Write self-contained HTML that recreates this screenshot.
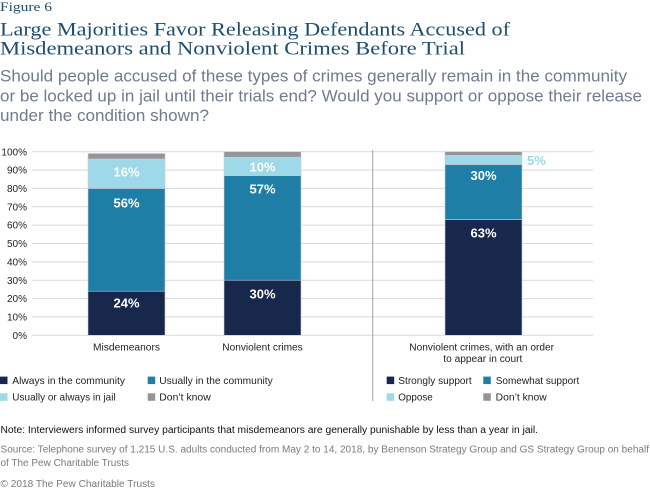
<!DOCTYPE html>
<html>
<head>
<meta charset="utf-8">
<style>
  html, body { margin: 0; padding: 0; background: #ffffff; }
  body { width: 650px; height: 490px; overflow: hidden; }
  svg { display: block; }
  .serif { font-family: "Liberation Serif", serif; }
  .sans { font-family: "Liberation Sans", sans-serif; }
</style>
</head>
<body>
<svg width="650" height="490" viewBox="0 0 650 490" xmlns="http://www.w3.org/2000/svg">
  <!-- Header -->
  <text class="serif" x="0" y="11" font-size="13" fill="#1c4d6d" textLength="52" lengthAdjust="spacingAndGlyphs">Figure 6</text>
  <text class="serif" x="0" y="35.5" font-size="19" fill="#1c4d6d" textLength="510" lengthAdjust="spacingAndGlyphs">Large Majorities Favor Releasing Defendants Accused of</text>
  <text class="serif" x="0" y="54.5" font-size="19" fill="#1c4d6d" textLength="465" lengthAdjust="spacingAndGlyphs">Misdemeanors and Nonviolent Crimes Before Trial</text>
  <text class="sans" x="0" y="81.5" font-size="17" fill="#6f7a93" textLength="627" lengthAdjust="spacingAndGlyphs">Should people accused of these types of crimes generally remain in the community</text>
  <text class="sans" x="0" y="101.5" font-size="17" fill="#6f7a93" textLength="642" lengthAdjust="spacingAndGlyphs">or be locked up in jail until their trials end? Would you support or oppose their release</text>
  <text class="sans" x="0" y="121" font-size="17" fill="#6f7a93" textLength="209" lengthAdjust="spacingAndGlyphs">under the condition shown?</text>

  <!-- Gridlines -->
  <g stroke="#d9d9d9" stroke-width="1">
    <line x1="32" x2="593" y1="335.3" y2="335.3"/>
    <line x1="32" x2="593" y1="316.9" y2="316.9"/>
    <line x1="32" x2="593" y1="298.6" y2="298.6"/>
    <line x1="32" x2="593" y1="280.2" y2="280.2"/>
    <line x1="32" x2="593" y1="261.9" y2="261.9"/>
    <line x1="32" x2="593" y1="243.5" y2="243.5"/>
    <line x1="32" x2="593" y1="225.1" y2="225.1"/>
    <line x1="32" x2="593" y1="206.8" y2="206.8"/>
    <line x1="32" x2="593" y1="188.4" y2="188.4"/>
    <line x1="32" x2="593" y1="170.1" y2="170.1"/>
    <line x1="32" x2="593" y1="151.7" y2="151.7"/>
  </g>

  <!-- Y tick labels -->
  <g class="sans" font-size="10" fill="#222" text-anchor="end">
    <text x="27" y="339">0%</text>
    <text x="27" y="320.5">10%</text>
    <text x="27" y="302.2">20%</text>
    <text x="27" y="283.8">30%</text>
    <text x="27" y="265.5">40%</text>
    <text x="27" y="247.1">50%</text>
    <text x="27" y="228.7">60%</text>
    <text x="27" y="210.4">70%</text>
    <text x="27" y="192">80%</text>
    <text x="27" y="173.7">90%</text>
    <text x="27" y="155.3">100%</text>
  </g>

  <!-- Separator -->
  <line x1="372.7" x2="372.7" y1="150" y2="401" stroke="#a3a3a3" stroke-width="1"/>

  <!-- Bar 1: Misdemeanors -->
  <g stroke="#c9ced8" stroke-width="0.6">
    <rect x="88" y="291.2" width="77" height="44.1" fill="#18274c"/>
    <rect x="88" y="188.4" width="77" height="102.8" fill="#1f7ea6"/>
    <rect x="88" y="159.0" width="77" height="29.4" fill="#9dd9e9"/>
    <rect x="88" y="153.5" width="77" height="5.5" fill="#939598"/>
  </g>
  <!-- Bar 2: Nonviolent crimes -->
  <g stroke="#c9ced8" stroke-width="0.6">
    <rect x="224" y="280.2" width="77" height="55.1" fill="#18274c"/>
    <rect x="224" y="175.6" width="77" height="104.6" fill="#1f7ea6"/>
    <rect x="224" y="157.2" width="77" height="18.4" fill="#9dd9e9"/>
    <rect x="224" y="151.7" width="77" height="5.5" fill="#939598"/>
  </g>
  <!-- Bar 3 -->
  <g stroke="#c9ced8" stroke-width="0.6">
    <rect x="445" y="219.6" width="77" height="115.7" fill="#18274c"/>
    <rect x="445" y="164.5" width="77" height="55.1" fill="#1f7ea6"/>
    <rect x="445" y="155.4" width="77" height="9.1" fill="#9dd9e9"/>
    <rect x="445" y="151.7" width="77" height="3.7" fill="#939598"/>
  </g>

  <!-- Value labels -->
  <g class="sans" font-size="13" font-weight="bold" fill="#ffffff" text-anchor="middle">
    <text x="126.5" y="307.5">24%</text>
    <text x="126.5" y="207.5">56%</text>
    <text x="126.5" y="176.5">16%</text>
    <text x="262.5" y="298.5">30%</text>
    <text x="262.5" y="193.5">57%</text>
    <text x="262.5" y="171.5">10%</text>
    <text x="483.5" y="237.5">63%</text>
    <text x="483.5" y="180">30%</text>
  </g>
  <text class="sans" x="527" y="165" font-size="13" font-weight="bold" fill="#9dd9e9">5%</text>

  <!-- Category labels -->
  <g class="sans" font-size="10" fill="#222">
    <text x="93" y="350.6" textLength="67" lengthAdjust="spacingAndGlyphs">Misdemeanors</text>
    <text x="222.3" y="350.6" textLength="80.4" lengthAdjust="spacingAndGlyphs">Nonviolent crimes</text>
    <text x="409.3" y="350.6" textLength="144.7" lengthAdjust="spacingAndGlyphs">Nonviolent crimes, with an order</text>
    <text x="443.3" y="361.8" textLength="79" lengthAdjust="spacingAndGlyphs">to appear in court</text>
  </g>

  <!-- Legend -->
  <rect x="0" y="376.6" width="7.5" height="7.5" fill="#18274c"/>
  <rect x="147.7" y="376.6" width="7.5" height="7.5" fill="#1f7ea6"/>
  <rect x="0" y="393.3" width="7.5" height="7.5" fill="#9dd9e9"/>
  <rect x="147.7" y="393.3" width="7.5" height="7.5" fill="#939598"/>
  <rect x="386.7" y="376.6" width="7.5" height="7.5" fill="#18274c"/>
  <rect x="483.3" y="376.6" width="7.5" height="7.5" fill="#1f7ea6"/>
  <rect x="386.7" y="393.3" width="7.5" height="7.5" fill="#9dd9e9"/>
  <rect x="483.3" y="393.3" width="7.5" height="7.5" fill="#939598"/>
  <g class="sans" font-size="10.3" fill="#222">
    <text x="12.3" y="384" textLength="112.7" lengthAdjust="spacingAndGlyphs">Always in the community</text>
    <text x="159.3" y="384" textLength="113.4" lengthAdjust="spacingAndGlyphs">Usually in the community</text>
    <text x="12.3" y="400.7" textLength="103.4" lengthAdjust="spacingAndGlyphs">Usually or always in jail</text>
    <text x="159.3" y="400.7" textLength="51.4" lengthAdjust="spacingAndGlyphs">Don’t know</text>
    <text x="398.3" y="384" textLength="73.4" lengthAdjust="spacingAndGlyphs">Strongly support</text>
    <text x="495.7" y="384" textLength="83.6" lengthAdjust="spacingAndGlyphs">Somewhat support</text>
    <text x="398.3" y="400.7" textLength="34.4" lengthAdjust="spacingAndGlyphs">Oppose</text>
    <text x="495.7" y="400.7" textLength="51" lengthAdjust="spacingAndGlyphs">Don’t know</text>
  </g>

  <!-- Notes -->
  <text class="sans" x="0.5" y="432.8" font-size="10" fill="#111" textLength="537.5" lengthAdjust="spacingAndGlyphs">Note: Interviewers informed survey participants that misdemeanors are generally punishable by less than a year in jail.</text>
  <text class="sans" x="0.5" y="452.3" font-size="10" fill="#7a7a7a" textLength="648.5" lengthAdjust="spacingAndGlyphs">Source: Telephone survey of 1,215 U.S. adults conducted from May 2 to 14, 2018, by Benenson Strategy Group and GS Strategy Group on behalf</text>
  <text class="sans" x="0.5" y="466" font-size="10" fill="#7a7a7a" textLength="128.5" lengthAdjust="spacingAndGlyphs">of The Pew Charitable Trusts</text>
  <text class="sans" x="0.5" y="487" font-size="10" fill="#7a7a7a" textLength="154.5" lengthAdjust="spacingAndGlyphs">© 2018 The Pew Charitable Trusts</text>
</svg>
</body>
</html>
